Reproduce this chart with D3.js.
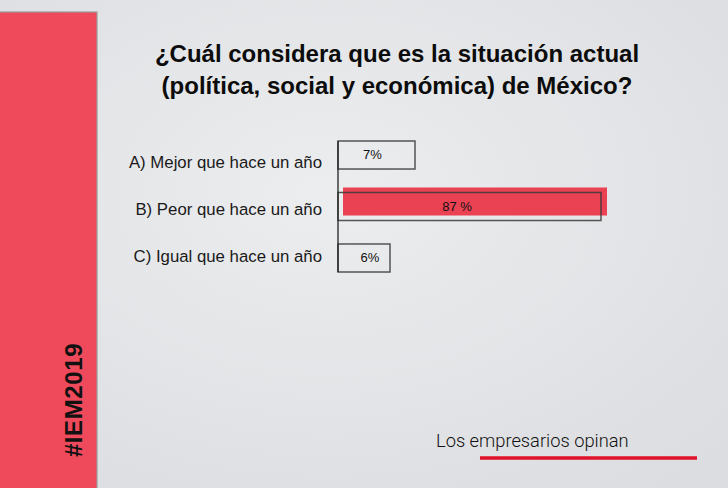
<!DOCTYPE html>
<html>
<head>
<meta charset="utf-8">
<script src="https://cdn.jsdelivr.net/npm/d3@7"></script>
<style>
  body { margin: 0; background: #e4e5e7; }
  svg { display: block; }
</style>
</head>
<body>
<div id="chart"></div>
<script>
"use strict";
(function() {
    const size = { width: 728, height: 488 };

    const categories = ["A) Mejor que hace un año", "B) Peor que hace un año", "C) Igual que hace un año"];
    const values = [7, 87, 6];
    const valueLabels = ["7%", "87 %", "6%"];
    const titleLines = ["¿Cuál considera que es la situación actual", "(política, social y económica) de México?"];

    const font = "'Liberation Sans', Arial, sans-serif";

    window.addEventListener("load", init);

    function init() {
        let svg = d3.select("#chart")
                    .append("svg")
                        .attr("width", size.width)
                        .attr("height", size.height);

        drawBackground(svg);
        drawTitle(svg);
        drawBars(svg);
        drawFooter(svg);
    }

    function drawBackground(svg) {
        let defs = svg.append("defs");
        let grad = defs.append("radialGradient").attr("id", "paper")
            .attr("cx", "45%").attr("cy", "40%").attr("r", "75%");
        grad.append("stop").attr("offset", "0%").attr("stop-color", "#ecedef");
        grad.append("stop").attr("offset", "100%").attr("stop-color", "#dcdde0");

        svg.append("rect")
            .attr("width", size.width)
            .attr("height", size.height)
            .attr("fill", "url(#paper)");

        // red side panel
        svg.append("rect")
            .attr("x", -2)
            .attr("y", 12)
            .attr("width", 99)
            .attr("height", size.height)
            .attr("fill", "#ef4a5b")
            .attr("stroke", "#9a9a9c")
            .attr("stroke-width", 1.2);

        svg.append("text")
            .attr("transform", "translate(82,400) rotate(-90)")
            .attr("text-anchor", "middle")
            .attr("font-family", font)
            .attr("font-weight", "bold")
            .attr("font-size", 24)
            .attr("letter-spacing", 0.6)
            .attr("fill", "#111")
            .text("#IEM2019");
    }

    function drawTitle(svg) {
        svg.append("g")
            .selectAll("text")
            .data(titleLines)
            .enter()
            .append("text")
                .attr("x", 397)
                .attr("y", (d, i) => 62 + i * 32)
                .attr("text-anchor", "middle")
                .attr("font-family", font)
                .attr("font-weight", "bold")
                .attr("font-size", 24)
                .attr("fill", "#0c0c0c")
                .text(d => d);
    }

    function drawBars(svg) {
        // the boxes are not proportional in the original, so the scale is piecewise
        let x = d3.scaleLinear()
                    .domain([0, 6, 7, 87])
                    .range([0, 52, 77, 263]);
        let y = d3.scaleBand()
                    .domain(categories)
                    .range([141, 272])
                    .paddingInner(0.456)
                    .paddingOuter(0);
        let x0 = 338;
        let labelShift = [12.7, 8.5, 3.7];
        let valueShift = [4.3, 4.5, 3.7];
        let valueDx = [-4, -17.5, 6];

        let g = svg.append("g");

        // red highlight for the largest answer
        let top = d3.max(values);
        g.selectAll(".hl")
            .data(categories.filter((c, i) => values[i] === top))
            .enter()
            .append("rect")
                .attr("class", "hl")
                .attr("x", x0 + 5)
                .attr("y", d => y(d) - 5)
                .attr("width", x(top) + 1)
                .attr("height", y.bandwidth())
                .attr("fill", "#ea4253");

        g.selectAll(".box")
            .data(categories)
            .enter()
            .append("rect")
                .attr("class", "box")
                .attr("x", x0)
                .attr("y", d => y(d))
                .attr("width", (d, i) => x(values[i]))
                .attr("height", y.bandwidth())
                .attr("fill", "none")
                .attr("stroke", "#3a3a3a")
                .attr("stroke-opacity", 0.85)
                .attr("stroke-width", 1.5);

        g.append("line")
            .attr("x1", x0).attr("x2", x0)
            .attr("y1", y.range()[0]).attr("y2", y.range()[1])
            .attr("stroke", "#222")
            .attr("stroke-width", 1.3);

        g.selectAll(".cat")
            .data(categories)
            .enter()
            .append("text")
                .attr("class", "cat")
                .attr("x", 322)
                .attr("y", (d, i) => y(d) + y.bandwidth() / 2 + labelShift[i])
                .attr("text-anchor", "end")
                .attr("font-family", font)
                .attr("font-size", 16.8)
                .attr("fill", "#1a1a1a")
                .text(d => d);

        g.selectAll(".val")
            .data(categories)
            .enter()
            .append("text")
                .attr("class", "val")
                .attr("x", (d, i) => x0 + (values[i] === top ? 5 : 0) + x(values[i]) / 2 + valueDx[i])
                .attr("y", (d, i) => y(d) + y.bandwidth() / 2 + valueShift[i])
                .attr("text-anchor", "middle")
                .attr("font-family", font)
                .attr("font-size", 13)
                .attr("fill", "#111")
                .text((d, i) => valueLabels[i]);
    }

    function drawFooter(svg) {
        svg.append("text")
            .attr("x", 436)
            .attr("y", 447)
            .attr("font-family", "Roboto, 'Liberation Sans', sans-serif")
            .attr("font-weight", 300)
            .attr("font-size", 18.3)
            .attr("fill", "#111")
            .text("Los empresarios opinan");

        svg.append("line")
            .attr("x1", 480).attr("x2", 697)
            .attr("y1", 458).attr("y2", 458)
            .attr("stroke", "#e0112b")
            .attr("stroke-width", 3.5);
    }
})();
</script>
</body>
</html>
